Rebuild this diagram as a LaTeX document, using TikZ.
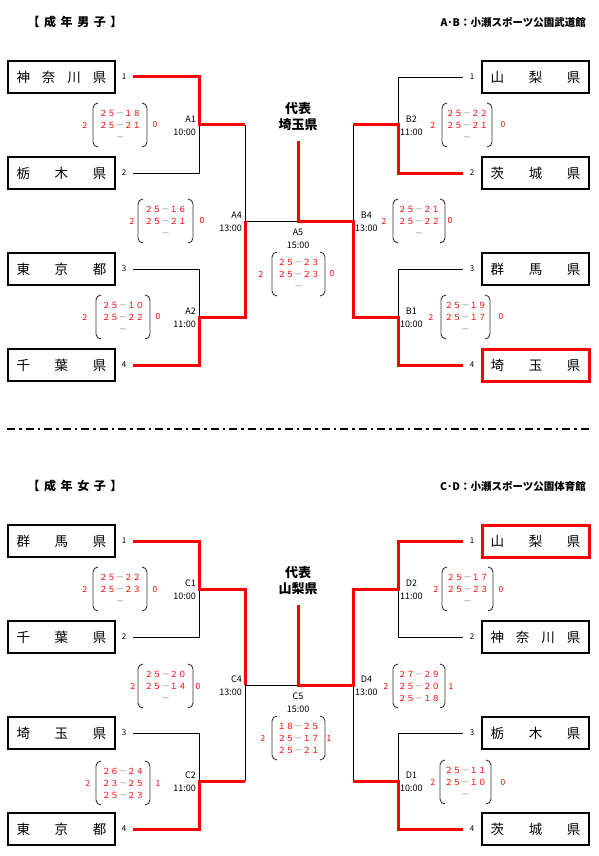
\documentclass[tikz,border=0pt]{standalone}
\usepackage{fontspec}
\setmainfont{Noto Sans CJK JP}
\newcommand\pts[2]{#1{\color{gray}－}#2}
\newcommand\nopts{{\color{gray}－}}
\newcommand\kname[1]{\makebox[90pt][s]{#1}}
\tikzset{
  pref/.style={draw, line width=1.2pt, minimum width=107pt, minimum height=32pt, inner sep=0pt, font=\fontsize{13.5}{14}\selectfont},
  champ/.style={pref, draw=red, line width=3pt},
  seed/.style={font=\fontsize{8}{8}\selectfont, inner sep=0pt},
  win/.style={draw=red, line width=3pt},
  lose/.style={draw=black, line width=0.8pt},
  mlab/.style={font=\fontsize{9}{13}\selectfont, inner sep=0pt},
  score/.style={text=red, font=\fontsize{8.4}{12}\selectfont, align=center, inner sep=0pt},
  paren/.style={draw=black!80, line width=0.9pt, rounded corners=5pt},
  head/.style={font=\bfseries\fontsize{12}{12}\selectfont, inner sep=0pt},
  hall/.style={font=\bfseries\fontsize{10.5}{10.5}\selectfont, inner sep=0pt, anchor=east},
  rep/.style={font=\bfseries\fontsize{13}{16}\selectfont, align=center, inner sep=0pt},
  divline/.style={line width=2pt, dash pattern=on 8pt off 4pt on 2.5pt off 4pt}
}
\begin{document}
\begin{tikzpicture}[x=1pt, y=-1pt]
\useasboundingbox (0,0) rectangle (598,856);
\node[head] (mhead) at (75,22) {\makebox[95pt][s]{【\hfill 成\hfill 年\hfill 男\hfill 子\hfill 】}};
\node[hall] (mhall) at (586,22) {A･B：小瀬スポーツ公園武道館};
\node[head] (whead) at (75,486) {\makebox[95pt][s]{【\hfill 成\hfill 年\hfill 女\hfill 子\hfill 】}};
\node[hall] (whall) at (586,486) {C･D：小瀬スポーツ公園体育館};
\node[rep] (mrep) at (298,117) {代表\\埼玉県};
\node[rep] (wrep) at (298,581) {代表\\山梨県};
\coordinate (dl) at (7,429);
\coordinate (dr) at (591,429);
\draw[divline] (dl) -- (dr);
\foreach \nm/\y/\s/\t in {mL1/77/1/{神\hfill 奈\hfill 川\hfill 県}, mL2/173/2/{栃\hfill 木\hfill 県}, mL3/269/3/{東\hfill 京\hfill 都}, mL4/365/4/{千\hfill 葉\hfill 県}, wL1/541/1/{群\hfill 馬\hfill 県}, wL2/637/2/{千\hfill 葉\hfill 県}, wL3/733/3/{埼\hfill 玉\hfill 県}, wL4/829/4/{東\hfill 京\hfill 都}} {\node[pref] (\nm) at (61.5,\y) {\kname{\t}}; \node[seed] (\nm-s) at (124,\y) {\s}; \coordinate (\nm-e) at (133,\y);}
\foreach \nm/\y/\s/\st/\t in {mR1/77/1/pref/{山\hfill 梨\hfill 県}, mR2/173/2/pref/{茨\hfill 城\hfill 県}, mR3/269/3/pref/{群\hfill 馬\hfill 県}, mR4/365/4/champ/{埼\hfill 玉\hfill 県}, wR1/541/1/champ/{山\hfill 梨\hfill 県}, wR2/637/2/pref/{神\hfill 奈\hfill 川\hfill 県}, wR3/733/3/pref/{栃\hfill 木\hfill 県}, wR4/829/4/pref/{茨\hfill 城\hfill 県}} {\node[\st] (\nm) at (535.5,\y) {\kname{\t}}; \node[seed] (\nm-s) at (472,\y) {\s}; \coordinate (\nm-e) at (463,\y);}
\foreach \s/\dy in {m/0, w/464} {
  \coordinate (\s-a) at (199,125+\dy);
  \coordinate (\s-b) at (199,317+\dy);
  \coordinate (\s-at) at (245,125+\dy);
  \coordinate (\s-bt) at (245,317+\dy);
  \coordinate (\s-sl) at (245,221+\dy);
  \coordinate (\s-f) at (298,221+\dy);
  \coordinate (\s-top) at (298,141+\dy);
  \coordinate (\s-sr) at (353,221+\dy);
  \coordinate (\s-ct) at (353,125+\dy);
  \coordinate (\s-dt) at (353,317+\dy);
  \coordinate (\s-c) at (398,125+\dy);
  \coordinate (\s-d) at (398,317+\dy);
}
\draw[lose] (mL2-e) -| (m-a);
\draw[lose] (mL3-e) -| (m-b);
\draw[lose] (mR1-e) -| (m-c);
\draw[lose] (mR3-e) -| (m-d);
\draw[lose] (m-at) -- (m-sl) -- (m-f);
\draw[lose] (m-ct) -- (m-sr);
\draw[win] (mL1-e) -| (m-a) -- (m-at);
\draw[win] (mL4-e) -| (m-b) -- (m-bt) -- (m-sl);
\draw[win] (mR2-e) -| (m-c) -- (m-ct);
\draw[win] (mR4-e) -| (m-d) -- (m-dt) -- (m-sr) -- (m-f) -- (m-top);
\draw[lose] (wL2-e) -| (w-a);
\draw[lose] (wL3-e) -| (w-b);
\draw[lose] (wR2-e) -| (w-c);
\draw[lose] (wR3-e) -| (w-d);
\draw[lose] (w-bt) -- (w-sl) -- (w-f);
\draw[lose] (w-dt) -- (w-sr);
\draw[win] (wL1-e) -| (w-a) -- (w-at) -- (w-sl);
\draw[win] (wL4-e) -| (w-b) -- (w-bt);
\draw[win] (wR4-e) -| (w-d) -- (w-dt);
\draw[win] (wR1-e) -| (w-c) -- (w-ct) -- (w-sr) -- (w-f) -- (w-top);
\foreach \nm/\x/\y/\an/\al/\t in {mA1/196/125.5/east/right/{A1\\10:00}, mA2/196/318/east/right/{A2\\11:00}, mA4/242/221.5/east/right/{A4\\13:00}, mA5/298/239/center/center/{A5\\15:00}, mB2/400/125.5/west/center/{B2\\11:00}, mB1/400/318/west/center/{B1\\10:00}, mB4/355/221.5/west/center/{B4\\13:00}, wC1/196/589.5/east/right/{C1\\10:00}, wC2/196/782/east/right/{C2\\11:00}, wC4/242/685.5/east/right/{C4\\13:00}, wC5/298/703/center/center/{C5\\15:00}, wD2/400/589.5/west/center/{D2\\11:00}, wD1/400/782/west/center/{D1\\10:00}, wD4/355/685.5/west/center/{D4\\13:00}} {\node[mlab, anchor=\an, align=\al] (\nm-t) at (\x,\y) {\t};}
\foreach \nm/\ax/\lx/\rx/\bx/\y/\l/\r/\pa/\pb/\pc in {
  mA1/85/93/147/155/125/2/0/{\pts{２５}{１８}}/{\pts{２５}{２１}}/\nopts,
  mA4/132/138/193/202/221/2/0/{\pts{２５}{１６}}/{\pts{２５}{２１}}/\nopts,
  mA2/85/96/150/158/317/2/0/{\pts{２５}{１０}}/{\pts{２５}{２２}}/\nopts,
  mA5/261/272/325/332/274/2/0/{\pts{２５}{２３}}/{\pts{２５}{２３}}/\nopts,
  mB2/433/442/492/503/125/2/0/{\pts{２５}{２２}}/{\pts{２５}{２１}}/\nopts,
  mB4/384/393/445/450/221/2/0/{\pts{２５}{２１}}/{\pts{２５}{２２}}/\nopts,
  mB1/431/441/490/501/317/2/0/{\pts{２５}{１９}}/{\pts{２５}{１７}}/\nopts,
  wC1/85/93/147/155/589/2/0/{\pts{２５}{２２}}/{\pts{２５}{２３}}/\nopts,
  wC4/133/138/193/198/686/2/0/{\pts{２５}{２０}}/{\pts{２５}{１４}}/\nopts,
  wC2/88/96/150/158/783/2/1/{\pts{２６}{２４}}/{\pts{２３}{２５}}/{\pts{２５}{２３}},
  wC5/263/272/325/329/738/2/1/{\pts{１８}{２５}}/{\pts{２５}{１７}}/{\pts{２５}{２１}},
  wD2/436/442/493/501/589/2/0/{\pts{２５}{１７}}/{\pts{２５}{２３}}/\nopts,
  wD4/386/393/445/451/686/2/1/{\pts{２７}{２９}}/{\pts{２５}{２０}}/{\pts{２５}{１８}},
  wD1/433/440/491/503/782/2/0/{\pts{２５}{１１}}/{\pts{２５}{１０}}/\nopts} {
  \node[score] (\nm) at ({(\lx+\rx)/2},\y) {\pa\\\pb\\\pc};
  \node[score] (\nm-l) at (\ax,\y) {\l};
  \node[score] (\nm-r) at (\bx,\y) {\r};
  \draw[paren] (\lx+5,\y-22) -- (\lx,\y-22) -- (\lx,\y+22) -- (\lx+5,\y+22);
  \draw[paren] (\rx-5,\y-22) -- (\rx,\y-22) -- (\rx,\y+22) -- (\rx-5,\y+22);
}
\end{tikzpicture}
\end{document}
